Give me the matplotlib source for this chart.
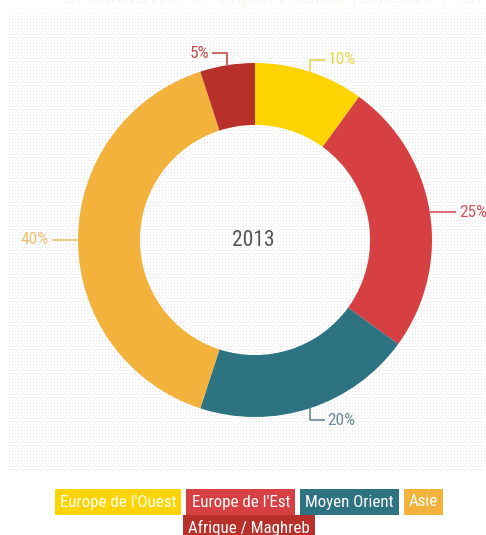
import numpy as np
import matplotlib
matplotlib.use('Agg')
import matplotlib.pyplot as plt

# export share by region, 2013
regions = ["Europe de l'Ouest", "Europe de l'Est", "Moyen Orient", "Asie", "Afrique / Maghreb"]
shares = [10, 25, 20, 40, 5]
colors = ['#fdd400', '#d64042', '#2e7381', '#f2b23c', '#b8302a']
label_colors = ['#e9d64a', '#d6535b', '#6b8c94', '#eec170', '#c0504a']
year = '2013'
title = 'Breakdown of export sales (outside France)'

W, H = 486, 535
plt.rcParams['font.family'] = ['Liberation Sans Narrow', 'Roboto Condensed', 'DejaVu Sans']
plt.rcParams['font.stretch'] = 'condensed'

fig = plt.figure(figsize=(W / 100, H / 100), dpi=100)
ax = fig.add_axes([0, 0, 1, 1])

# dotted panel behind the chart
px0, px1, py0, py1 = 8, 486, 65, 523
pat = np.ones((py1 - py0, px1 - px0, 3))
pat[1::3, 1::3] = 0.9
ax.imshow(pat, extent=(px0, px1, py0, py1), interpolation='nearest', zorder=0)

cx, cy, R = 255, 295, 177
wedges, _ = ax.pie(shares, colors=colors, startangle=90, counterclock=False,
                   center=(cx, cy), radius=R,
                   wedgeprops=dict(width=R * 0.35, linewidth=0))
for w in wedges:
    w.set_zorder(2)

# percentage labels with elbow leaders
for w, val, lc in zip(wedges, shares, label_colors):
    ang = np.deg2rad((w.theta1 + w.theta2) / 2)
    dx, dy = np.cos(ang), np.sin(ang)
    x0, y0 = cx + R * dx, cy + R * dy
    side = 1 if dx >= 0 else -1
    if abs(dy) < 0.3:
        xs = [x0, x0 + side * 26]
        ys = [y0, y0]
    else:
        vs = 1 if dy > 0 else -1
        xs = [x0, x0, x0 + side * 15]
        ys = [y0, y0 + vs * 12, y0 + vs * 12]
    ax.plot(xs, ys, color=lc, lw=1.2, zorder=3, solid_capstyle='butt')
    ax.text(xs[-1] + side * 3, ys[-1], f'{val}%', color=lc, fontsize=12.5,
            ha='left' if side > 0 else 'right', va='center', zorder=3)

ax.text(cx - 2, cy, year, color='#555555', fontsize=15.5, ha='center', va='center', zorder=3)

# title, partly above the canvas edge
ax.text(62, H - 3, title, color='#c5e2a0', fontsize=18, family=['Lato', 'DejaVu Sans'],
        fontweight='light', fontstretch='normal', ha='left', va='baseline')

ax.set_xlim(0, W)
ax.set_ylim(0, H)
ax.set_aspect('auto')
ax.axis('off')

# legend as colored tags, laid out in two centered rows
rows = [[0, 1, 2, 3], [4]]
row_y = [33, 7]
gap = 5
fig.canvas.draw()
renderer = fig.canvas.get_renderer()
for idxs, yy in zip(rows, row_y):
    texts = []
    for i in idxs:
        t = ax.text(0, yy, regions[i], color='white', fontsize=12.2, ha='left', va='center',
                    bbox=dict(boxstyle='square,pad=0.3', fc=colors[i], ec='none'))
        texts.append(t)
    fig.canvas.draw()
    widths = [t.get_bbox_patch().get_window_extent(renderer).width for t in texts]
    total = sum(widths) + gap * (len(widths) - 1)
    x = 249 - total / 2
    for t, wd in zip(texts, widths):
        pad = (wd - t.get_window_extent(renderer).width) / 2
        t.set_x(x + pad)
        x += wd + gap

fig.savefig('out.png', dpi=100)
